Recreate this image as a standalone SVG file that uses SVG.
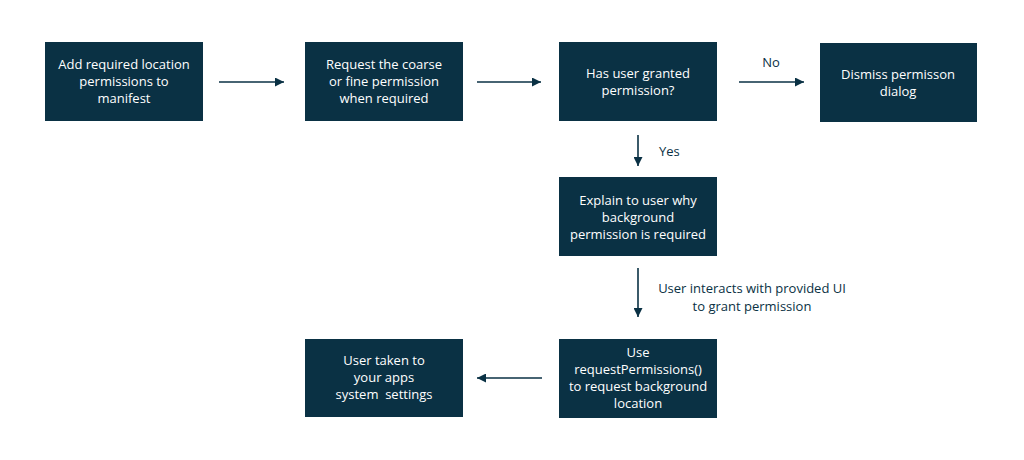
<svg xmlns="http://www.w3.org/2000/svg" width="1024" height="460" viewBox="0 0 1024 460">
<style>
.box{fill:#0a3144;}
.t{font-family:"Open Sans","Liberation Sans",sans-serif;font-size:13px;fill:#ffffff;text-anchor:middle;}
.l{font-family:"Open Sans","Liberation Sans",sans-serif;font-size:13px;fill:#0a3144;}
.c{stroke:#0a3144;stroke-width:1.6;fill:none;marker-end:url(#ah);}
</style>
<defs>
<marker id="ah" viewBox="0 0 10 10" refX="10" refY="5" markerWidth="10" markerHeight="9" markerUnits="userSpaceOnUse" orient="auto">
<path d="M0,0 L10,5 L0,10 Z" fill="#0a3144"/>
</marker>
</defs>
<rect width="1024" height="460" fill="#ffffff"/>
<g id="connectors">
<line class="c" x1="219" y1="82" x2="284" y2="82"/>
<line class="c" x1="477" y1="82" x2="541" y2="82"/>
<line class="c" x1="739" y1="82" x2="804" y2="82"/>
<line class="c" x1="638" y1="135" x2="638" y2="166"/>
<line class="c" x1="638" y1="268" x2="638" y2="317"/>
<line class="c" x1="542" y1="378" x2="477" y2="378"/>
<text class="l" x="771" y="67" text-anchor="middle">No</text>
<text class="l" x="659" y="156">Yes</text>
<text class="l" x="752" y="293" text-anchor="middle">User interacts with provided UI</text>
<text class="l" x="752" y="311" text-anchor="middle">to grant permission</text>
</g>
<g id="n1">
<rect class="box" x="45" y="42" width="158" height="79"/>
<text class="t" x="124" y="69">Add required location</text>
<text class="t" x="124" y="86">permissions to</text>
<text class="t" x="124" y="103">manifest</text>
</g>
<g id="n2">
<rect class="box" x="305" y="42" width="158" height="79"/>
<text class="t" x="384" y="69">Request the coarse</text>
<text class="t" x="384" y="86">or fine permission</text>
<text class="t" x="384" y="103">when required</text>
</g>
<g id="n3">
<rect class="box" x="559" y="42" width="158" height="79"/>
<text class="t" x="638" y="78">Has user granted</text>
<text class="t" x="638" y="95">permission?</text>
</g>
<g id="n4">
<rect class="box" x="820" y="43" width="157" height="79"/>
<text class="t" x="898" y="79">Dismiss permisson</text>
<text class="t" x="898" y="96">dialog</text>
</g>
<g id="n5">
<rect class="box" x="559" y="177" width="158" height="79"/>
<text class="t" x="638" y="205">Explain to user why</text>
<text class="t" x="638" y="222">background</text>
<text class="t" x="638" y="239">permission is required</text>
</g>
<g id="n6">
<rect class="box" x="559" y="339" width="158" height="79"/>
<text class="t" x="638" y="357">Use</text>
<text class="t" x="638" y="374">requestPermissions()</text>
<text class="t" x="638" y="391">to request background</text>
<text class="t" x="638" y="408">location</text>
</g>
<g id="n7">
<rect class="box" x="305" y="339" width="158" height="78"/>
<text class="t" x="384" y="365">User taken to</text>
<text class="t" x="384" y="382">your apps</text>
<text class="t" x="384" y="399" xml:space="preserve">system  settings</text>
</g>
</svg>
